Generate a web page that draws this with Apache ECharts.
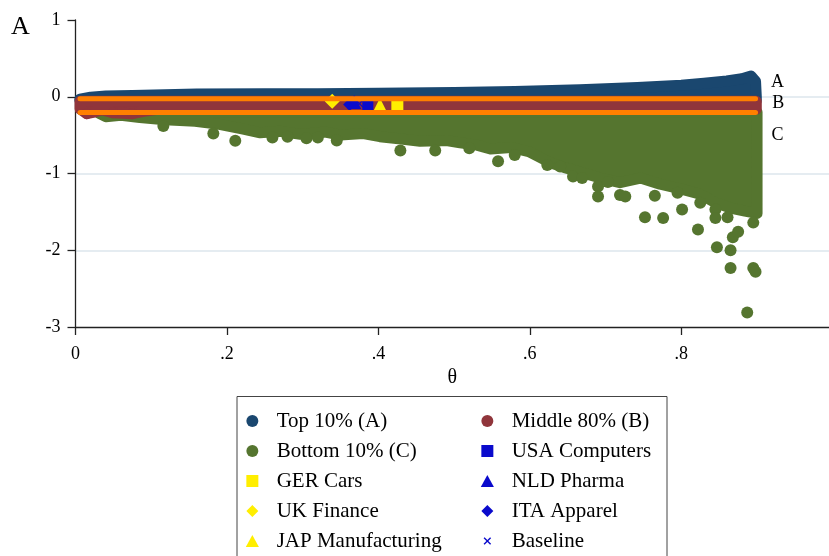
<!DOCTYPE html>
<html>
<head>
<meta charset="utf-8">
<script src="https://cdn.jsdelivr.net/npm/echarts@6/dist/echarts.min.js"></script>
<style>html,body{margin:0;padding:0;background:#fff}#c{width:829px;height:556px}</style>
</head>
<body>
<div id="c"></div>
<script>
// ---- data ----
const xTickValues = [0, 0.2, 0.4, 0.6, 0.8];
const xTickLabels = ['0', '.2', '.4', '.6', '.8'];
const yTickLabels = ['-3', '-2', '-1', '0', '1'];

// Top 10% (A): dense cloud envelope (point centres)
const topTop = [[0.006,-0.03],[0.02,-0.005],[0.04,0.01],[0.075,0.017],[0.16,0.035],[0.25,0.04],[0.32,0.04],[0.40,0.045],[0.50,0.055],[0.58,0.07],[0.666,0.092],[0.742,0.122],[0.80,0.15],[0.83,0.175],[0.86,0.205],[0.88,0.235],[0.892,0.27],[0.898,0.2],[0.899,0.0]];
const topBottom = [[0.006,-0.05],[0.899,-0.05]];
// Middle 80% (B)
const midTop = [[0.006,-0.06],[0.899,-0.06]];
const midBottom = [[0.006,-0.16],[0.015,-0.22],[0.025,-0.2],[0.035,-0.17],[0.05,-0.21],[0.075,-0.22],[0.09,-0.19],[0.11,-0.16],[0.899,-0.16]];
// Bottom 10% (C)
const botTop = [[0.032,-0.2],[0.9,-0.2]];
const botBottom = [[0.032,-0.22],[0.04,-0.26],[0.06,-0.24],[0.085,-0.27],[0.118,-0.3],[0.158,-0.32],[0.19,-0.36],[0.22,-0.42],[0.244,-0.47],[0.27,-0.45],[0.297,-0.49],[0.33,-0.46],[0.35,-0.5],[0.38,-0.48],[0.402,-0.52],[0.43,-0.55],[0.455,-0.58],[0.49,-0.57],[0.508,-0.6],[0.53,-0.63],[0.548,-0.68],[0.575,-0.66],[0.60,-0.72],[0.627,-0.86],[0.645,-0.92],[0.666,-0.98],[0.693,-1.06],[0.719,-1.12],[0.746,-1.06],[0.772,-1.14],[0.799,-1.2],[0.825,-1.27],[0.845,-1.38],[0.865,-1.45],[0.884,-1.49],[0.9,-1.52]];
const botOutliers = [[0.116,-0.38],[0.182,-0.48],[0.211,-0.574],[0.26,-0.53],[0.28,-0.52],[0.305,-0.54],[0.32,-0.53],[0.345,-0.57],[0.429,-0.70],[0.475,-0.70],[0.52,-0.67],[0.558,-0.84],[0.58,-0.76],[0.623,-0.89],[0.64,-0.91],[0.657,-1.04],[0.669,-1.06],[0.69,-1.17],[0.69,-1.30],[0.703,-1.11],[0.719,-1.28],[0.726,-1.30],[0.765,-1.29],[0.752,-1.57],[0.776,-1.58],[0.795,-1.25],[0.801,-1.47],[0.825,-1.38],[0.822,-1.73],[0.845,-1.47],[0.845,-1.58],[0.861,-1.57],[0.847,-1.96],[0.865,-2.0],[0.868,-1.83],[0.875,-1.76],[0.865,-2.23],[0.895,-2.23],[0.898,-2.28],[0.887,-2.81],[0.895,-1.64]];
const topOutliers = [[0.006,-0.04]];
const midOutliers = [[0.015,-0.22],[0.05,-0.21],[0.075,-0.22]];

// Orange reference lines
const orangeUpper = [[0.006,-0.026],[0.898,-0.026]];
const orangeLower = [[0.006,-0.205],[0.898,-0.205]];

// Highlighted sectors
const gerCars = [[0.425,-0.12]];
const ukFinance = [[0.339,-0.06]];
const japManuf = [[0.402,-0.1]];
const usaComputers = [[0.386,-0.1]];
const nldPharma = [[0.368,-0.07]];
const itaApparel = [[0.362,-0.1]];
const baseline = [[0.375,-0.09]];

const groupLabels = [[0.927,0.19,'A'],[0.928,-0.091,'B'],[0.927,-0.502,'C']];

// ---- styling ----
const NAVY = '#1a476f', MAROON = '#90353b', GREEN = '#55752f', ORANGE = '#ff8000', YELLOW = '#ffee00', BLUE = '#0a0acc';
const SERIF = 'Liberation Serif, Times New Roman, serif';
const XPATH = 'path://M0,1L1,0L5,4L9,0L10,1L6,5L10,9L9,10L5,6L1,10L0,9L4,5Z';
const XICON = 'path://M-3,-3M13,13M0,1.3L1.3,0L5,3.7L8.7,0L10,1.3L6.3,5L10,8.7L8.7,10L5,6.3L1.3,10L0,8.7L3.7,5Z';
const SQ = 'path://M0,0L10,0L10,10L0,10Z';
const DIA = 'path://M6,0L12,6L6,12L0,6Z';
const TRI = 'path://M6,0L12,11L0,11Z';

function cloud(name, top, bottom, color, z) {
  return {
    type: 'custom', name: name, z: z, silent: true, animation: false,
    coordinateSystem: 'cartesian2d', clip: false,
    data: [top[0]],
    renderItem: function (params, api) {
      const p = top.concat(bottom.slice().reverse()).map(q => api.coord(q));
      return { type: 'polygon', shape: { points: p },
        style: { fill: color, stroke: color, lineWidth: 11, lineJoin: 'round' } };
    }
  };
}
function pts(name, data, symbol, size, color, z) {
  return { type: 'scatter', name: name, data: data, symbol: symbol, symbolSize: size, z: z,
    itemStyle: { color: color, opacity: 1 }, animation: false, silent: true };
}
function hline(data) {
  return { type: 'line', data: data, symbol: 'none', z: 8, silent: true, animation: false,
    lineStyle: { color: ORANGE, width: 5, cap: 'round' } };
}
function legendCol(left, items) {
  return { orient: 'vertical', left: left, top: 406, height: 200, padding: 0, itemGap: 0,
    itemWidth: 38.6, itemHeight: 12, selectedMode: false,
    textStyle: { fontFamily: SERIF, fontSize: 21, color: '#000', lineHeight: 30 },
    data: items };
}

const chart = echarts.init(document.getElementById('c'), null, { renderer: 'canvas' });
chart.setOption({
  backgroundColor: '#fff',
  animation: false,
  grid: { left: 75.5, right: 0, top: 20, bottom: 229 },
  xAxis: {
    type: 'value', min: 0, max: 0.995, interval: 0.2,
    name: 'θ', nameLocation: 'middle', nameGap: 41,
    nameTextStyle: { fontFamily: SERIF, fontSize: 20, color: '#000' },
    axisLine: { show: true, onZero: false, lineStyle: { color: '#222', width: 1.3 } },
    axisTick: { show: true, length: 8, customValues: xTickValues, lineStyle: { color: '#222', width: 1.3 } },
    axisLabel: { customValues: xTickValues, margin: 18, fontFamily: SERIF, fontSize: 18, color: '#000',
      formatter: v => xTickLabels[xTickValues.indexOf(Math.round(v * 10) / 10)] },
    splitLine: { show: false }
  },
  yAxis: {
    type: 'value', min: -3, max: 1, interval: 1,
    axisLine: { show: true, onZero: false, lineStyle: { color: '#222', width: 1.3 } },
    axisTick: { show: true, length: 8, lineStyle: { color: '#222', width: 1.3 } },
    axisLabel: { margin: 15, fontFamily: SERIF, fontSize: 18, color: '#000',
      formatter: v => yTickLabels[Math.round(v) + 3] },
    splitLine: { show: true, showMinLine: false, showMaxLine: false, lineStyle: { color: '#dde6ec', width: 1.5 } }
  },
  legend: [
    legendCol(245.8, [
      { name: 'Top 10% (A)', icon: 'circle' },
      { name: 'Bottom 10% (C)', icon: 'circle' },
      { name: 'GER Cars', icon: SQ },
      { name: 'UK Finance', icon: DIA },
      { name: 'JAP Manufacturing', icon: TRI }
    ]),
    legendCol(480.8, [
      { name: 'Middle 80% (B)', icon: 'circle' },
      { name: 'USA Computers', icon: SQ },
      { name: 'NLD Pharma', icon: TRI },
      { name: 'ITA Apparel', icon: DIA },
      { name: 'Baseline', icon: XICON }
    ])
  ],
  series: [
    cloud('cloudC', botTop, botBottom, GREEN, 2),
    pts('Bottom 10% (C)', botOutliers, 'circle', 12, GREEN, 2),
    cloud('cloudA', topTop, topBottom, NAVY, 3),
    pts('Top 10% (A)', topOutliers, 'circle', 11, NAVY, 3),
    cloud('cloudB', midTop, midBottom, MAROON, 4),
    pts('Middle 80% (B)', midOutliers, 'circle', 11, MAROON, 4),
    pts('Baseline', baseline, XPATH, 8, BLUE, 5),
    pts('ITA Apparel', itaApparel, 'diamond', 13, BLUE, 5),
    pts('NLD Pharma', nldPharma, 'triangle', 14, BLUE, 5),
    pts('USA Computers', usaComputers, 'rect', 11, BLUE, 5),
    pts('UK Finance', ukFinance, 'diamond', 15, YELLOW, 5),
    pts('JAP Manufacturing', japManuf, 'triangle', 13, YELLOW, 5),
    pts('GER Cars', gerCars, 'rect', 12, YELLOW, 5),
    hline(orangeUpper),
    hline(orangeLower)
  ]
});
// Legend frame, panel letter and group labels A/B/C (placed through the axes)
const graphics = [
  { type: 'rect', shape: { x: 237, y: 396.5, width: 430, height: 200 },
    style: { fill: 'none', stroke: '#444', lineWidth: 1 }, silent: true, z: 0 },
  { type: 'text', x: 11, y: 27, silent: true,
    style: { text: 'A', fontFamily: SERIF, fontSize: 26, fill: '#000', verticalAlign: 'middle', align: 'left' } }
].concat(groupLabels.map(function (g) {
  const p = chart.convertToPixel({ gridIndex: 0 }, [g[0], g[1]]);
  return { type: 'text', x: p[0], y: p[1], silent: true, z: 100,
    style: { text: g[2], fontFamily: SERIF, fontSize: 18, fill: '#000', align: 'center', verticalAlign: 'middle' } };
}));
chart.setOption({ graphic: graphics });
</script>
</body>
</html>
